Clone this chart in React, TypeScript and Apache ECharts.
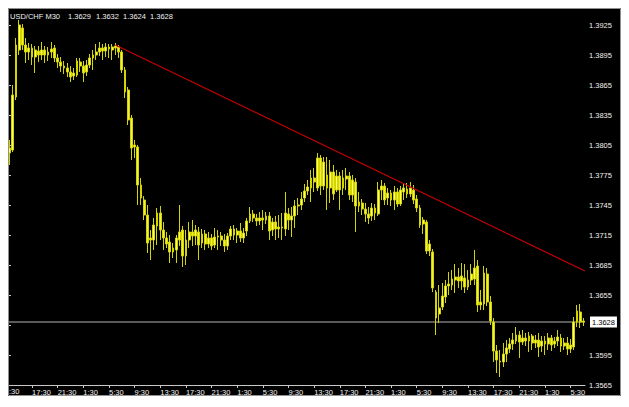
import React, { useEffect, useRef } from "react";
import * as echarts from "echarts";

// USD/CHF M30 bars: [open, high, low, close]
const BARS: number[][] = [
  [1.3797, 1.3810, 1.3785, 1.3802], [1.3800, 1.3865, 1.3798, 1.3855], [1.3853, 1.3912, 1.3850, 1.3905],
  [1.3900, 1.3930, 1.3895, 1.3925], [1.3922, 1.3926, 1.3900, 1.3905], [1.3905, 1.3912, 1.3887, 1.3898],
  [1.3898, 1.3907, 1.3890, 1.3902], [1.3902, 1.3906, 1.3885, 1.3893], [1.3893, 1.3904, 1.3877, 1.3900],
  [1.3899, 1.3904, 1.3888, 1.3895], [1.3895, 1.3908, 1.3890, 1.3900], [1.3900, 1.3904, 1.3887, 1.3895],
  [1.3895, 1.3903, 1.3889, 1.3898], [1.3898, 1.3908, 1.3892, 1.3901], [1.3902, 1.3905, 1.3888, 1.3892],
  [1.3892, 1.3896, 1.3882, 1.3888], [1.3888, 1.3893, 1.3878, 1.3884], [1.3884, 1.3889, 1.3876, 1.3882],
  [1.3882, 1.3887, 1.3873, 1.3878], [1.3878, 1.3884, 1.3868, 1.3873], [1.3874, 1.3882, 1.3870, 1.3877],
  [1.3875, 1.3892, 1.3873, 1.3889], [1.3888, 1.3892, 1.3878, 1.3884], [1.3884, 1.3889, 1.3868, 1.3877],
  [1.3878, 1.3890, 1.3874, 1.3885], [1.3885, 1.3896, 1.3882, 1.3892], [1.3892, 1.3900, 1.3880, 1.3895],
  [1.3895, 1.3906, 1.3890, 1.3898], [1.3898, 1.3908, 1.3894, 1.3902], [1.3902, 1.3906, 1.3890, 1.3899],
  [1.3899, 1.3907, 1.3893, 1.3903], [1.3903, 1.3906, 1.3892, 1.3901], [1.3900, 1.3906, 1.3890, 1.3903],
  [1.3902, 1.3907, 1.3895, 1.3904], [1.3903, 1.3905, 1.3892, 1.3898], [1.3898, 1.3900, 1.3877, 1.3880],
  [1.3880, 1.3883, 1.3852, 1.3858], [1.3860, 1.3863, 1.3825, 1.3830], [1.3832, 1.3835, 1.3790, 1.3802],
  [1.3803, 1.3810, 1.3792, 1.3805], [1.3803, 1.3805, 1.3745, 1.3765], [1.3765, 1.3772, 1.3745, 1.3752],
  [1.3750, 1.3754, 1.3730, 1.3735], [1.3735, 1.3745, 1.3697, 1.3707], [1.3710, 1.3720, 1.3690, 1.3712],
  [1.3710, 1.3732, 1.3700, 1.3725], [1.3724, 1.3742, 1.3705, 1.3737], [1.3737, 1.3744, 1.3710, 1.3720],
  [1.3720, 1.3728, 1.3700, 1.3712], [1.3712, 1.3718, 1.3702, 1.3706], [1.3708, 1.3715, 1.3687, 1.3698],
  [1.3698, 1.3707, 1.3692, 1.3702], [1.3700, 1.3715, 1.3687, 1.3712], [1.3710, 1.3745, 1.3704, 1.3718],
  [1.3720, 1.3724, 1.3683, 1.3694], [1.3694, 1.3720, 1.3685, 1.3710], [1.3710, 1.3728, 1.3702, 1.3718],
  [1.3718, 1.3730, 1.3704, 1.3714], [1.3714, 1.3725, 1.3705, 1.3720], [1.3718, 1.3723, 1.3690, 1.3705],
  [1.3707, 1.3721, 1.3702, 1.3716], [1.3716, 1.3720, 1.3700, 1.3706], [1.3706, 1.3718, 1.3702, 1.3712],
  [1.3712, 1.3716, 1.3700, 1.3704], [1.3705, 1.3722, 1.3702, 1.3713], [1.3713, 1.3720, 1.3700, 1.3714],
  [1.3714, 1.3718, 1.3704, 1.3710], [1.3710, 1.3716, 1.3698, 1.3704], [1.3704, 1.3717, 1.3700, 1.3714],
  [1.3714, 1.3724, 1.3710, 1.3721], [1.3721, 1.3725, 1.3710, 1.3715], [1.3715, 1.3722, 1.3707, 1.3719],
  [1.3719, 1.3727, 1.3708, 1.3712], [1.3712, 1.3722, 1.3707, 1.3717], [1.3719, 1.3732, 1.3714, 1.3729],
  [1.3729, 1.3743, 1.3727, 1.3736], [1.3736, 1.3740, 1.3728, 1.3732], [1.3732, 1.3736, 1.3724, 1.3729],
  [1.3729, 1.3738, 1.3725, 1.3732], [1.3732, 1.3740, 1.3720, 1.3730], [1.3730, 1.3738, 1.3726, 1.3734],
  [1.3734, 1.3738, 1.3710, 1.3719], [1.3720, 1.3732, 1.3714, 1.3728], [1.3728, 1.3734, 1.3710, 1.3721],
  [1.3721, 1.3735, 1.3712, 1.3723], [1.3723, 1.3737, 1.3710, 1.3722], [1.3721, 1.3758, 1.3714, 1.3737],
  [1.3736, 1.3742, 1.3720, 1.3730], [1.3730, 1.3743, 1.3713, 1.3734], [1.3734, 1.3750, 1.3722, 1.3744],
  [1.3744, 1.3752, 1.3735, 1.3745], [1.3745, 1.3758, 1.3740, 1.3751], [1.3752, 1.3766, 1.3748, 1.3759],
  [1.3759, 1.3770, 1.3755, 1.3763], [1.3762, 1.3780, 1.3748, 1.3772], [1.3772, 1.3782, 1.3758, 1.3768],
  [1.3762, 1.3797, 1.3759, 1.3792], [1.3792, 1.3795, 1.3755, 1.3764], [1.3764, 1.3793, 1.3760, 1.3788],
  [1.3775, 1.3793, 1.3740, 1.3762], [1.3762, 1.3790, 1.3747, 1.3778], [1.3778, 1.3785, 1.3750, 1.3756],
  [1.3760, 1.3780, 1.3758, 1.3774], [1.3774, 1.3778, 1.3740, 1.3760], [1.3762, 1.3780, 1.3755, 1.3772],
  [1.3771, 1.3782, 1.3760, 1.3774], [1.3774, 1.3778, 1.3750, 1.3755], [1.3755, 1.3775, 1.3748, 1.3770],
  [1.3768, 1.3772, 1.3718, 1.3744], [1.3744, 1.3758, 1.3738, 1.3748], [1.3747, 1.3751, 1.3735, 1.3741],
  [1.3741, 1.3747, 1.3728, 1.3736], [1.3736, 1.3743, 1.3726, 1.3732], [1.3734, 1.3747, 1.3729, 1.3742],
  [1.3742, 1.3746, 1.3730, 1.3737], [1.3736, 1.3768, 1.3734, 1.3760], [1.3760, 1.3770, 1.3750, 1.3764],
  [1.3764, 1.3767, 1.3745, 1.3750], [1.3752, 1.3762, 1.3745, 1.3757], [1.3757, 1.3760, 1.3744, 1.3750],
  [1.3750, 1.3764, 1.3740, 1.3758], [1.3758, 1.3762, 1.3743, 1.3746], [1.3746, 1.3764, 1.3744, 1.3760],
  [1.3758, 1.3766, 1.3750, 1.3762], [1.3761, 1.3767, 1.3752, 1.3756], [1.3756, 1.3768, 1.3753, 1.3762],
  [1.3760, 1.3765, 1.3746, 1.3750], [1.3751, 1.3755, 1.3738, 1.3742], [1.3742, 1.3745, 1.3722, 1.3725],
  [1.3726, 1.3733, 1.3716, 1.3730], [1.3728, 1.3730, 1.3696, 1.3699], [1.3699, 1.3710, 1.3694, 1.3706],
  [1.3698, 1.3701, 1.3658, 1.3662], [1.3658, 1.3660, 1.3615, 1.3632], [1.3636, 1.3665, 1.3627, 1.3642],
  [1.3643, 1.3667, 1.3640, 1.3654], [1.3653, 1.3670, 1.3647, 1.3664], [1.3664, 1.3678, 1.3655, 1.3666],
  [1.3665, 1.3680, 1.3660, 1.3671], [1.3670, 1.3686, 1.3657, 1.3673], [1.3673, 1.3682, 1.3662, 1.3669],
  [1.3669, 1.3687, 1.3660, 1.3674], [1.3672, 1.3686, 1.3657, 1.3663], [1.3663, 1.3680, 1.3660, 1.3670],
  [1.3670, 1.3686, 1.3665, 1.3676], [1.3671, 1.3700, 1.3665, 1.3682], [1.3684, 1.3690, 1.3638, 1.3645],
  [1.3645, 1.3660, 1.3640, 1.3648], [1.3646, 1.3684, 1.3640, 1.3677], [1.3676, 1.3682, 1.3644, 1.3648],
  [1.3648, 1.3654, 1.3625, 1.3629], [1.3628, 1.3632, 1.3588, 1.3599], [1.3599, 1.3605, 1.3577, 1.3590],
  [1.3589, 1.3600, 1.3573, 1.3588], [1.3588, 1.3607, 1.3583, 1.3596], [1.3596, 1.3610, 1.3588, 1.3602],
  [1.3601, 1.3612, 1.3597, 1.3606], [1.3606, 1.3617, 1.3600, 1.3610], [1.3609, 1.3623, 1.3606, 1.3615],
  [1.3615, 1.3619, 1.3592, 1.3608], [1.3608, 1.3620, 1.3605, 1.3612], [1.3612, 1.3617, 1.3604, 1.3609],
  [1.3609, 1.3618, 1.3598, 1.3614], [1.3614, 1.3616, 1.3600, 1.3607], [1.3607, 1.3615, 1.3602, 1.3610],
  [1.3610, 1.3617, 1.3593, 1.3603], [1.3604, 1.3614, 1.3598, 1.3609], [1.3609, 1.3614, 1.3595, 1.3606],
  [1.3606, 1.3617, 1.3600, 1.3612], [1.3612, 1.3615, 1.3599, 1.3605], [1.3606, 1.3613, 1.3602, 1.3609],
  [1.3609, 1.3620, 1.3604, 1.3613], [1.3612, 1.3616, 1.3598, 1.3604], [1.3604, 1.3612, 1.3600, 1.3607],
  [1.3607, 1.3613, 1.3595, 1.3601], [1.3601, 1.3611, 1.3597, 1.3605], [1.3603, 1.3633, 1.3600, 1.3628],
  [1.3628, 1.3645, 1.3623, 1.3639], [1.3638, 1.3646, 1.3622, 1.3628], [1.3629, 1.3632, 1.3624, 1.3628],
];

const SYMBOL = "USD/CHF";
const TIMEFRAME = "M30";
const FIRST_BAR_MINUTES = 14 * 60; // first bar opens at 14:00
const BAR_MINUTES = 30;
const LABEL_FIRST_INDEX = 7; // 17:30
const LABEL_EVERY = 8; // every 4 hours

const Y_MIN = 1.3565;
const Y_MAX = 1.3941;
const Y_TICKS = [1.3565, 1.3595, 1.3625, 1.3655, 1.3685, 1.3715, 1.3745, 1.3775, 1.3805, 1.3835, 1.3865, 1.3895, 1.3925];
const Y_LABELS = [1.3565, 1.3595, 1.3655, 1.3685, 1.3715, 1.3745, 1.3775, 1.3805, 1.3835, 1.3865, 1.3895, 1.3925];

// trendline anchors: [bar position, price]
const TREND = [
  [33.5, 1.3905],
  [180, 1.3679],
];

const FONT = "Liberation Sans";

export default function App() {
  const ref = useRef<HTMLDivElement>(null);

  useEffect(() => {
    if (!ref.current) return;
    const chart = echarts.init(ref.current, null, { renderer: "svg" });

    const categories = BARS.map((_, i) => {
      const m = (FIRST_BAR_MINUTES + i * BAR_MINUTES) % (24 * 60);
      const h = Math.floor(m / 60);
      const mm = m % 60;
      return `${h}:${mm < 10 ? "0" + mm : mm}`;
    });
    const candleData = BARS.map(([o, h, l, c]) => [o, c, l, h]);
    const last = BARS[BARS.length - 1];
    const lastClose = last[3];
    const showLabel = (i: number) => i >= LABEL_FIRST_INDEX && (i - LABEL_FIRST_INDEX) % LABEL_EVERY === 0;

    const titleParts = [
      { text: `${SYMBOL} ${TIMEFRAME}`, x: 2 },
      { text: last[0].toFixed(4), x: 60 },
      { text: last[1].toFixed(4), x: 88 },
      { text: last[2].toFixed(4), x: 115 },
      { text: last[3].toFixed(4), x: 142 },
    ];

    chart.setOption({
      animation: false,
      backgroundColor: "#000000",
      grid: { left: 0, right: 36, top: 1, bottom: 11, containLabel: false },
      xAxis: [
        {
          type: "category",
          data: categories,
          boundaryGap: true,
          axisLine: { show: true, lineStyle: { color: "#c8c8c8", width: 1 } },
          axisTick: {
            show: true,
            alignWithLabel: true,
            interval: (i: number) => showLabel(i),
            length: 3,
            lineStyle: { color: "#c8c8c8" },
          },
          axisLabel: {
            show: true,
            interval: (i: number) => showLabel(i),
            color: "#f0f0f0",
            fontFamily: FONT,
            fontSize: 7.5,
            align: "left",
            margin: 3,
          },
          splitLine: { show: false },
        },
        { type: "value", min: 0, max: 180, show: false },
      ],
      yAxis: {
        type: "value",
        position: "right",
        min: Y_MIN,
        max: Y_MAX,
        scale: true,
        axisLine: { show: true, lineStyle: { color: "#c8c8c8", width: 1 } },
        axisTick: { show: true, length: 3, customValues: Y_TICKS, lineStyle: { color: "#c8c8c8" } },
        axisLabel: {
          show: true,
          customValues: Y_LABELS,
          formatter: (v: number) => v.toFixed(4),
          color: "#f0f0f0",
          fontFamily: FONT,
          fontSize: 7.5,
          margin: 4,
        },
        splitLine: { show: false },
      },
      series: [
        {
          type: "candlestick",
          data: candleData,
          barWidth: 2.3,
          silent: true,
          itemStyle: {
            color: "#ffff70",
            color0: "#f0f040",
            borderColor: "#d4d400",
            borderColor0: "#d4d400",
            borderWidth: 1,
          },
        },
        {
          type: "line",
          xAxisIndex: 1,
          data: [
            [0, lastClose],
            [180, lastClose],
          ],
          showSymbol: false,
          symbol: "none",
          silent: true,
          lineStyle: { color: "#b4b4b4", width: 1 },
          endLabel: {
            show: true,
            distance: 5,
            formatter: () => lastClose.toFixed(4),
            backgroundColor: "#ffffff",
            color: "#000000",
            fontFamily: FONT,
            fontSize: 7.5,
            padding: [2, 2, 1, 2],
          },
          z: 1,
        },
        {
          type: "line",
          xAxisIndex: 1,
          data: TREND,
          showSymbol: false,
          symbol: "none",
          silent: true,
          lineStyle: { color: "#c80000", width: 1.2 },
          clip: true,
          z: 3,
        },
      ],
      graphic: [
        {
          type: "rect",
          silent: true,
          shape: { x: 0.5, y: 0.5, width: 612, height: 387 },
          style: { fill: "none", stroke: "#909090", lineWidth: 1 },
          z: 100,
        },
        ...titleParts.map((p) => ({
          type: "text",
          silent: true,
          x: p.x,
          y: 8,
          style: {
            text: p.text,
            fill: "#f0f0f0",
            font: `7.5px "${FONT}"`,
            verticalAlign: "middle",
          },
          z: 100,
        })),
        {
          type: "text",
          silent: true,
          x: 1,
          y: 383,
          style: {
            text: ":30",
            fill: "#f0f0f0",
            font: `7.5px "${FONT}"`,
            verticalAlign: "middle",
          },
          z: 100,
        },
      ],
    });

    return () => chart.dispose();
  }, []);

  return <div ref={ref} style={{ width: 613, height: 388 }} />;
}
